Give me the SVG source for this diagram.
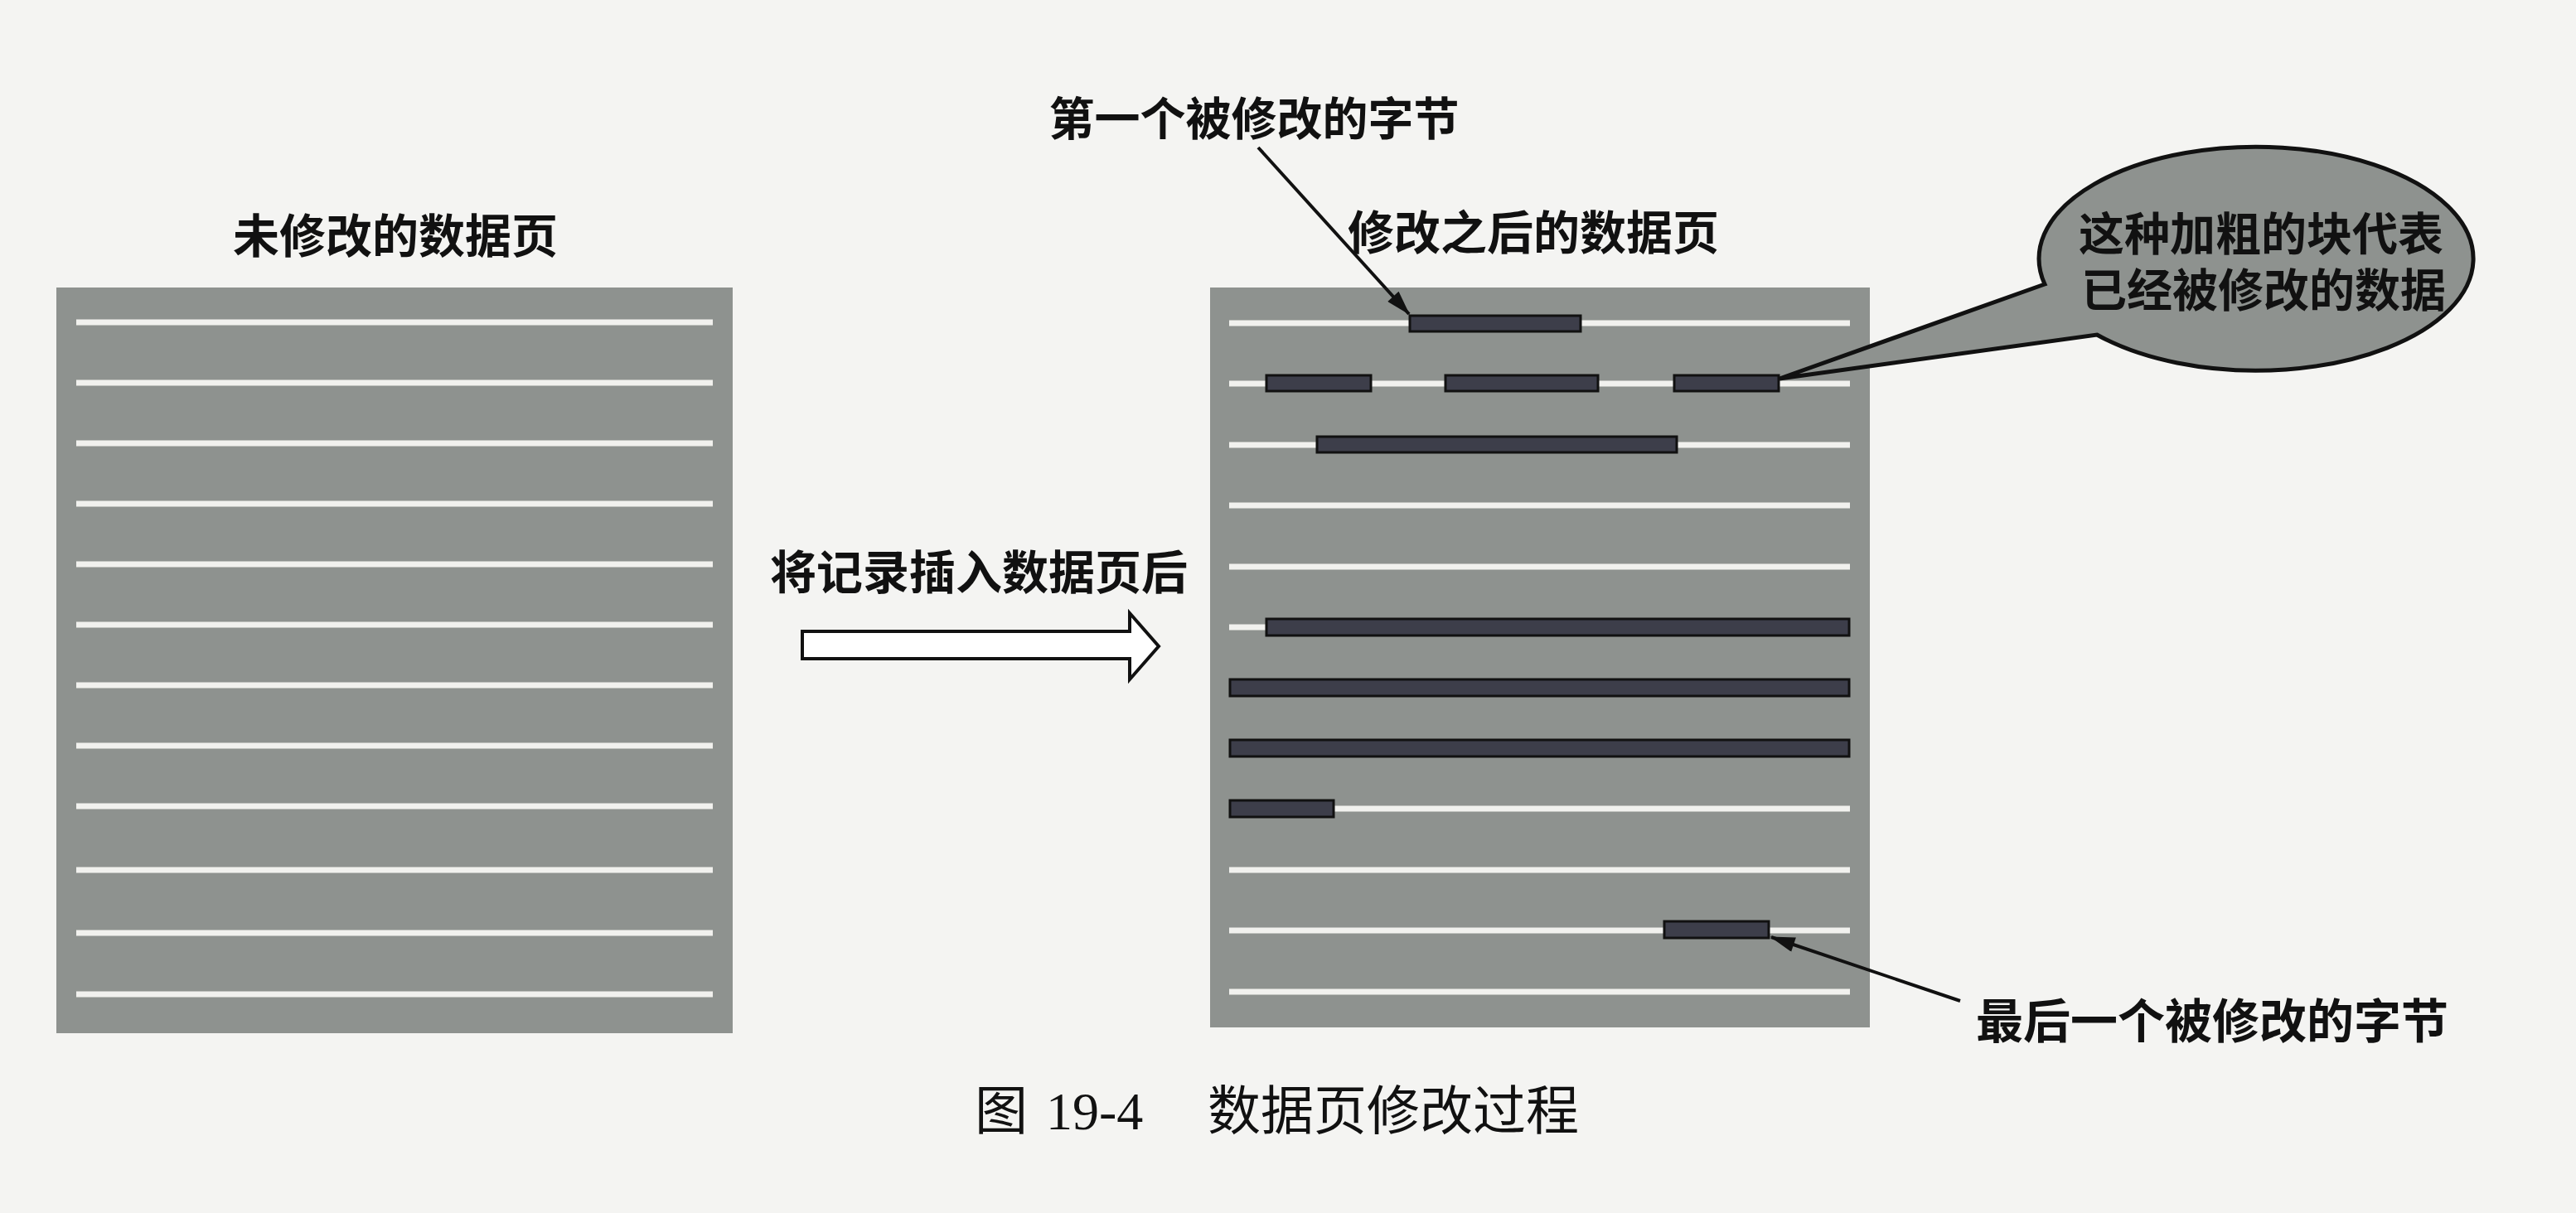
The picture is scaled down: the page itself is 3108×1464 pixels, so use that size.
<svg xmlns="http://www.w3.org/2000/svg" width="3108" height="1464" viewBox="0 0 3108 1464">
  <style>
    .page { fill: #8e928f; }
    .row { stroke: #f1f1ee; stroke-width: 7; stroke-linecap: butt; }
    .blk { fill: #3d3e4a; stroke: #111; stroke-width: 3; }
    .lbl { font-family: "Noto Sans CJK SC", "Noto Sans", sans-serif; font-weight: 700; fill: #111; text-anchor: middle; }
    .cap { font-family: "Liberation Serif", "Noto Sans CJK SC", serif; font-weight: 400; fill: #111; }
    .lead { stroke: #111; stroke-width: 4; fill: none; }
  </style>
  <defs>
    <marker id="tip" viewBox="0 0 20 10" refX="19" refY="5" markerWidth="20" markerHeight="10" markerUnits="userSpaceOnUse" orient="auto">
      <path d="M0 0 L20 5 L0 10 Z" fill="#111"/>
    </marker>
    <marker id="tipBig" viewBox="0 0 10 6" refX="9.5" refY="3" markerWidth="32" markerHeight="18" markerUnits="userSpaceOnUse" orient="auto">
      <path d="M0 0 L10 3 L0 6 Z" fill="#111"/>
    </marker>
  </defs>

  <rect width="3108" height="1464" fill="#f4f4f2"/>

  <!-- page before the change -->
  <g id="page-before">
    <text class="lbl" x="477" y="305" font-size="56">未修改的数据页</text>
    <rect class="page" x="68" y="347" width="816" height="900"/>
    <g class="row">
      <line x1="92" y1="389" x2="860" y2="389"/>
      <line x1="92" y1="462" x2="860" y2="462"/>
      <line x1="92" y1="535" x2="860" y2="535"/>
      <line x1="92" y1="608" x2="860" y2="608"/>
      <line x1="92" y1="681" x2="860" y2="681"/>
      <line x1="92" y1="754" x2="860" y2="754"/>
      <line x1="92" y1="827" x2="860" y2="827"/>
      <line x1="92" y1="900" x2="860" y2="900"/>
      <line x1="92" y1="973" x2="860" y2="973"/>
      <line x1="92" y1="1050" x2="860" y2="1050"/>
      <line x1="92" y1="1126" x2="860" y2="1126"/>
      <line x1="92" y1="1200" x2="860" y2="1200"/>
    </g>
  </g>

  <!-- insert step -->
  <g id="insert-step">
    <text class="lbl" x="1181" y="711" font-size="56">将记录插入数据页后</text>
    <polygon points="968,762 1363,762 1363,740 1398,780 1363,820 1363,795 968,795" fill="#fff" stroke="#111" stroke-width="4" stroke-linejoin="miter"/>
  </g>

  <!-- page after the change -->
  <g id="page-after">
    <text class="lbl" x="1850" y="301" font-size="56">修改之后的数据页</text>
    <rect class="page" x="1460" y="347" width="796" height="893"/>
    <g class="row">
      <line x1="1483" y1="390" x2="2232" y2="390"/>
      <line x1="1483" y1="463" x2="2232" y2="463"/>
      <line x1="1483" y1="537" x2="2232" y2="537"/>
      <line x1="1483" y1="610" x2="2232" y2="610"/>
      <line x1="1483" y1="684" x2="2232" y2="684"/>
      <line x1="1483" y1="757" x2="2232" y2="757"/>
      <line x1="1483" y1="830" x2="2232" y2="830"/>
      <line x1="1483" y1="903" x2="2232" y2="903"/>
      <line x1="1483" y1="976" x2="2232" y2="976"/>
      <line x1="1483" y1="1050" x2="2232" y2="1050"/>
      <line x1="1483" y1="1123" x2="2232" y2="1123"/>
      <line x1="1483" y1="1197" x2="2232" y2="1197"/>
    </g>
    <!-- modified byte ranges -->
    <g>
      <rect class="blk" x="1701" y="381" width="206" height="19"/>
      <rect class="blk" x="1528" y="453" width="126" height="19"/>
      <rect class="blk" x="1744" y="453" width="184" height="19"/>
      <rect class="blk" x="2020" y="453" width="126" height="19"/>
      <rect class="blk" x="1589" y="527" width="434" height="19"/>
      <rect class="blk" x="1528" y="747" width="703" height="20"/>
      <rect class="blk" x="1484" y="820" width="747" height="20"/>
      <rect class="blk" x="1484" y="893" width="747" height="20"/>
      <rect class="blk" x="1484" y="966" width="125" height="20"/>
      <rect class="blk" x="2008" y="1112" width="126" height="20"/>
    </g>
  </g>

  <!-- callout bubble -->
  <g id="bubble">
    <path d="M2467 343 L2147 457 L2530 404 A262 135 0 1 0 2467 343 Z" class="page" stroke="#111" stroke-width="5" stroke-linejoin="miter"/>
    <text class="lbl" x="2728" y="302" font-size="55">这种加粗的块代表</text>
    <text class="lbl" x="2731" y="370" font-size="55">已经被修改的数据</text>
  </g>

  <g id="first-byte">
    <text class="lbl" x="1513" y="163" font-size="55">第一个被修改的字节</text>
  </g>

  <g id="last-byte">
    <text class="lbl" x="2669" y="1253" font-size="57">最后一个被修改的字节</text>
  </g>

  <!-- leader lines -->
  <g id="connectors">
    <line class="lead" x1="1518" y1="178" x2="1700" y2="379" marker-end="url(#tipBig)"/>
    <line class="lead" x1="2365" y1="1208" x2="2137" y2="1131" marker-end="url(#tipBig)"/>
  </g>

  <!-- caption -->
  <g id="caption">
    <text class="cap" y="1363" font-size="64"><tspan x="1176" font-family="Noto Sans CJK SC, sans-serif" font-weight="400">图</tspan><tspan x="1262">19-4</tspan><tspan x="1457" font-family="Noto Sans CJK SC, sans-serif" font-weight="400">数据页修改过程</tspan></text>
  </g>
</svg>
